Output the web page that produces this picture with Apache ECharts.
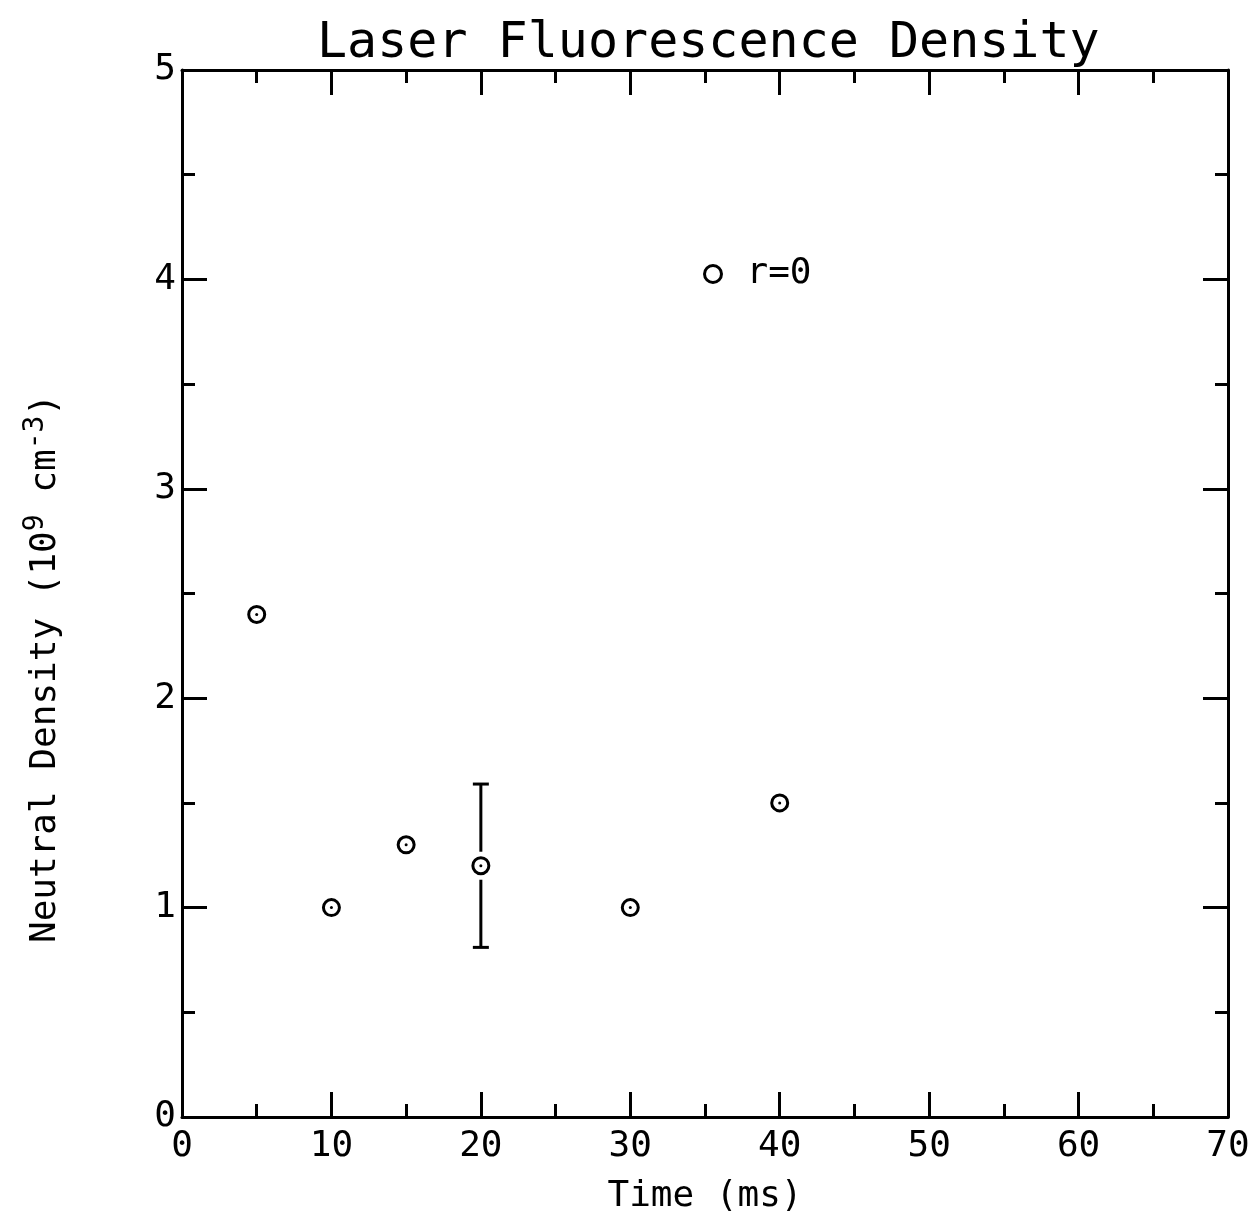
<!DOCTYPE html>
<html>
<head>
<meta charset="utf-8">
<script src="https://cdn.jsdelivr.net/npm/echarts@6/dist/echarts.min.js"></script>
<style>html,body{margin:0;padding:0;background:#fff}#c{width:1260px;height:1220px}</style>
</head>
<body>
<div id="c"></div>
<script>
const titleText = 'Laser Fluorescence Density';
const xName = 'Time (ms)';
const seriesName = 'r=0';
const times = [5, 10, 15, 20, 30, 40];
const density = [2.40, 1.00, 1.30, 1.20, 1.00, 1.50];
const errTimes = [20];
const errLow = [0.81];
const errHigh = [1.59];
const xMin = 0, xMax = 70, xStep = 10;
const yMin = 0, yMax = 5, yStep = 1;

const FONT = 'DejaVu Sans Mono';
const pts = times.map((t, i) => [t, density[i]]);
const errData = errTimes.map((t, i) => [t, errLow[i], errHigh[i]]);

function axisCommon() {
  return {
    axisLine: { show: true, onZero: false, lineStyle: { color: '#000', width: 3 } },
    axisTick: { show: true, inside: true, length: 25, lineStyle: { color: '#000', width: 3 } },
    minorTick: { show: true, splitNumber: 2, length: 13, lineStyle: { color: '#000', width: 3 } },
    splitLine: { show: false },
    minorSplitLine: { show: false }
  };
}

const chart = echarts.init(document.getElementById('c'), null, { renderer: 'canvas' });
chart.setOption({
  backgroundColor: '#fff',
  animation: false,
  title: {
    text: titleText, left: 312, top: 14,
    textStyle: { fontFamily: FONT, fontSize: 50, fontWeight: 'normal', color: '#000' }
  },
  legend: {
    data: [seriesName], left: 698, top: 251, orient: 'vertical',
    itemWidth: 17, itemHeight: 17,
    itemStyle: { color: '#fff', borderColor: '#000', borderWidth: 3, opacity: 1 },
    textStyle: { fontFamily: FONT, fontSize: 36, color: '#000', padding: [0, 0, 0, 20] }
  },
  grid: { left: 182, right: 32, top: 70, bottom: 98, containLabel: false },
  xAxis: [
    Object.assign({
      type: 'value', position: 'bottom', min: xMin, max: xMax, interval: xStep,
      name: xName, nameLocation: 'middle', nameGap: 62,
      nameTextStyle: { fontFamily: FONT, fontSize: 36, color: '#000' },
      axisLabel: { fontFamily: FONT, fontSize: 36, color: '#000', margin: 12 }
    }, axisCommon()),
    Object.assign({
      type: 'value', position: 'top', min: xMin, max: xMax, interval: xStep,
      axisLabel: { show: false }
    }, axisCommon())
  ],
  yAxis: [
    Object.assign({
      type: 'value', position: 'left', min: yMin, max: yMax, interval: yStep,
      name: '{a|Neutral Density (10}{s|9}{a| cm}{s|-3}{a|)}',
      nameLocation: 'middle', nameGap: 112, nameRotate: 90,
      nameTextStyle: {
        padding: [0, 150, 0, 0],
        rich: {
          a: { fontFamily: FONT, fontSize: 36, color: '#000', lineHeight: 48 },
          s: { fontFamily: FONT, fontSize: 28, color: '#000', verticalAlign: 'top', lineHeight: 28 }
        }
      },
      axisLabel: { fontFamily: FONT, fontSize: 36, color: '#000', margin: 6 }
    }, axisCommon()),
    Object.assign({
      type: 'value', position: 'right', min: yMin, max: yMax, interval: yStep,
      axisLabel: { show: false }
    }, axisCommon())
  ],
  series: [
    {
      name: seriesName, type: 'scatter', data: pts,
      symbol: 'circle', symbolSize: 16,
      itemStyle: { color: '#fff', borderColor: '#000', borderWidth: 3, opacity: 1 },
      z: 3
    },
    {
      name: 'dot', type: 'scatter', data: pts,
      symbol: 'circle', symbolSize: 3,
      itemStyle: { color: '#000', opacity: 1 }, z: 4, silent: true
    },
    {
      name: 'err', type: 'custom', data: errData,
      renderItem: function (params, api) {
        const x = api.value(0);
        const lo = api.coord([x, api.value(1)]);
        const hi = api.coord([x, api.value(2)]);
        const mid = api.coord([x, density[times.indexOf(x)]]);
        const cap = 8, gap = 14;
        const st = { stroke: '#000', lineWidth: 3 };
        return {
          type: 'group',
          children: [
            { type: 'line', shape: { x1: hi[0], y1: hi[1], x2: hi[0], y2: mid[1] - gap }, style: st },
            { type: 'line', shape: { x1: lo[0], y1: mid[1] + gap, x2: lo[0], y2: lo[1] }, style: st },
            { type: 'line', shape: { x1: hi[0] - cap, y1: hi[1], x2: hi[0] + cap, y2: hi[1] }, style: st },
            { type: 'line', shape: { x1: lo[0] - cap, y1: lo[1], x2: lo[0] + cap, y2: lo[1] }, style: st }
          ]
        };
      },
      z: 2
    }
  ]
});
</script>
</body>
</html>
